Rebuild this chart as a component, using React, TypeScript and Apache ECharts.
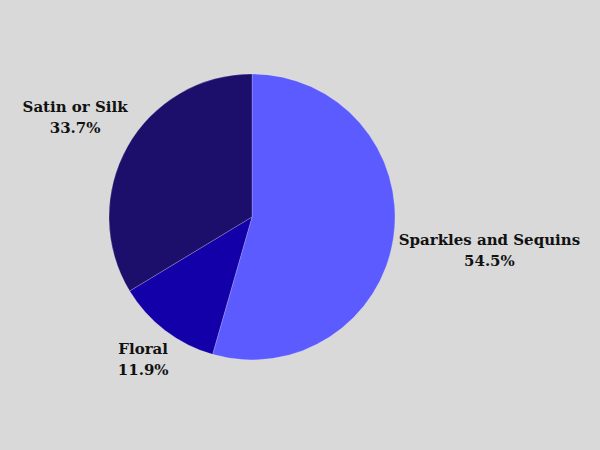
import React, { useEffect, useRef } from "react";
import * as echarts from "echarts";

const categories = ["Sparkles and Sequins", "Floral", "Satin or Silk"];
const values = [54.5, 11.9, 33.7];
const colors = ["#5b5bff", "#1400a8", "#1c0f6b"];

export default function App() {
  const ref = useRef<HTMLDivElement>(null);
  useEffect(() => {
    document.body.style.margin = "0";
    const el = ref.current!;
    const chart = echarts.init(el, null, { renderer: "svg" });
    const total = values.reduce((a, b) => a + b, 0);
    const cxFrac = 0.42;
    const cyFrac = 0.482;
    const R = 143;
    const gap = 4;
    chart.setOption({
      animation: false,
      backgroundColor: "#d9d9d9",
      series: [
        {
          type: "pie",
          center: [`${cxFrac * 100}%`, `${cyFrac * 100}%`],
          radius: [0, R],
          startAngle: 90,
          clockwise: true,
          avoidLabelOverlap: false,
          data: categories.map((name, i) => ({
            name,
            value: values[i],
            itemStyle: { color: colors[i] },
          })),
          itemStyle: { borderColor: "rgba(255,255,255,0.35)", borderWidth: 0.6 },
          label: {
            show: true,
            position: "outside",
            formatter: (p: any) => `${p.name}\n${Number(p.value).toFixed(1)}%`,
            fontFamily: "DejaVu Serif",
            fontWeight: "bold",
            fontSize: 15,
            lineHeight: 21,
            color: "#111111",
            align: "center",
            overflow: "none",
          },
          labelLine: { show: false },
          emphasis: { disabled: true },
          labelLayout: (params: any) => {
            const i = params.dataIndex;
            let before = 0;
            for (let k = 0; k < i; k++) before += values[k];
            const mid = ((before + values[i] / 2) / total) * Math.PI * 2;
            const dx = Math.sin(mid);
            const dy = -Math.cos(mid);
            const w = params.labelRect.width;
            const h = params.labelRect.height;
            const cx = chart.getWidth() * cxFrac;
            const cy = chart.getHeight() * cyFrac;
            const t = R + gap + (Math.abs(dx) * w) / 2 + (Math.abs(dy) * h) / 2;
            return {
              x: cx + dx * t,
              y: cy + dy * t,
              align: "center",
              verticalAlign: "middle",
            };
          },
        },
      ],
    });
    return () => chart.dispose();
  }, []);
  return <div ref={ref} style={{ width: 600, height: 450 }} />;
}
